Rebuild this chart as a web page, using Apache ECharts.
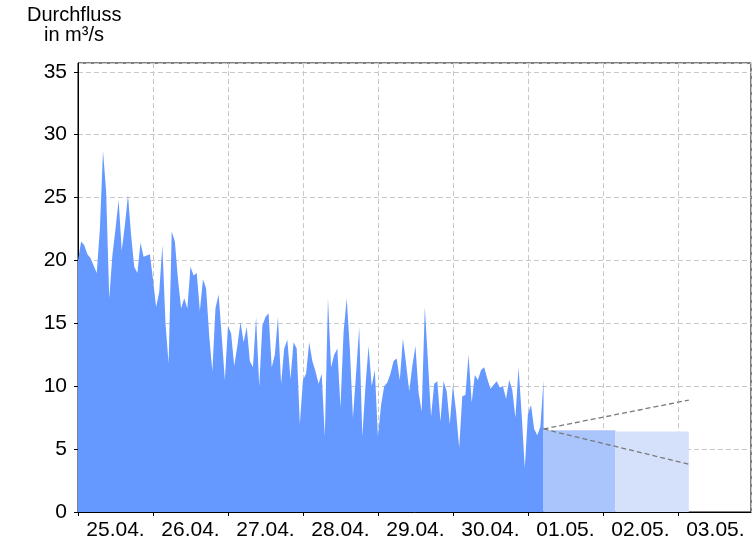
<!DOCTYPE html>
<html><head><meta charset="utf-8">
<script src="https://cdn.jsdelivr.net/npm/echarts@6/dist/echarts.min.js"></script>
<style>html,body{margin:0;padding:0;background:#fff}#c{width:756px;height:546px}</style>
</head><body><div id="c"></div>
<script>
// Day labels on the x axis (each day spans 24 h, starting 25.04. 00:00)
const dayLabels = ['25.04.','26.04.','27.04.','28.04.','29.04.','30.04.','01.05.','02.05.','03.05.'];
// Hourly discharge (m³/s) from 25.04. 00:00 (index = hour)
const flowValues = [
  20,21.5,21.2,20.5,20.2,19.6,19,22.5,28.7,25.5,17,20.4,22.5,24.8,20.8,22.8,25.2,22,19.5,19,21.4,20.3,20.4,20.5,
  18.5,16.3,17.5,21.2,15,11.8,22.3,21.5,18.5,16.2,17,16.2,19.5,18.8,19,16,18.5,17.8,14,11.2,16.2,17.3,14,10.5,
  14.8,14.2,11.6,13.2,15.1,13.5,14.7,12,11.5,15.5,10,14.8,15.5,15.8,11.5,12.5,15.5,10.2,13,13.7,10.6,13.5,13,7,
  10.5,11,13.5,12,11.2,10.2,11,6,17,11.5,12.5,13,8.3,14.3,17,13,7.5,11,14.7,6,10,13.2,10,11.3,6,8.5,
  10,10.3,11,12,12.2,10.5,13.8,11.8,9.6,11.6,13.2,9.5,8,16.3,12,7.6,10.2,10.4,7.2,10.4,9.6,7,10.1,8,
  5.1,9.2,9.3,12.5,8.7,10.9,10.5,11.3,11.5,10.6,9.8,10.1,10.4,9.9,10,9,10.5,9.7,7.5,11.5,7.8,3.5,7.8,8.5,
  6.6,6.1,6.8,10.5
];
// Forecast blocks (hours since 25.04. 00:00, value)
const forecastNearHours = [149, 172];
const forecastNearValues = [6.5, 6.5];
const forecastFarHours = [172, 195.5];
const forecastFarValues = [6.4, 6.4];
// Forecast range lines
const rangeHours = [149, 195.5];
const upperValues = [6.6, 8.9];
const lowerValues = [6.6, 3.8];

const zip = (xs, ys) => xs.map((x, i) => [x, ys[i]]);
const flowData = flowValues.map((v, i) => [i, v]);

const chart = echarts.init(document.getElementById('c'), null, {renderer: 'canvas'});
const font = 'Liberation Sans, Arial, sans-serif';
chart.setOption({
  animation: false,
  backgroundColor: '#fff',
  grid: {left: 78, right: 5, top: 63, bottom: 34, show: true, borderColor: '#000', borderWidth: 1, backgroundColor: 'transparent'},
  graphic: [
    {type: 'text', left: 27, top: 5, style: {text: 'Durchfluss', font: '20px ' + font, fill: '#000'}},
    {type: 'text', left: 44, top: 25, style: {text: 'in m³/s', font: '20px ' + font, fill: '#000'}}
  ],
  xAxis: {
    type: 'value', min: 0, max: 215.4, interval: 24,
    axisLine: {show: true, lineStyle: {color: '#000', width: 1}},
    axisTick: {show: true, length: 4, lineStyle: {color: '#000'}},
    axisLabel: {
      formatter: v => (Math.abs(v % 24) < 1e-6 && v / 24 < dayLabels.length) ? dayLabels[Math.round(v / 24)] : '',
      color: '#000', fontSize: 21, fontFamily: font, margin: 8, padding: [0, 0, 0, 75], showMaxLabel: false
    },
    splitLine: {show: true, lineStyle: {color: '#c8c8c8', width: 1, type: [5, 3]}}
  },
  yAxis: {
    type: 'value', min: 0, max: 35.7, interval: 5,
    axisLine: {show: true, lineStyle: {color: '#000', width: 1}},
    axisTick: {show: true, length: 4, lineStyle: {color: '#000'}},
    axisLabel: {formatter: v => (Math.abs(v % 5) < 1e-6) ? String(v) : '', color: '#000', fontSize: 21, fontFamily: font, margin: 11, showMaxLabel: false},
    splitLine: {show: true, lineStyle: {color: '#c8c8c8', width: 1, type: [5, 3]}}
  },
  series: [
    {type: 'line', data: flowData, symbol: 'none', lineStyle: {width: 0}, areaStyle: {color: '#6699ff', opacity: 1}, z: 2},
    {type: 'line', data: zip(forecastNearHours, forecastNearValues), symbol: 'none', lineStyle: {width: 0}, areaStyle: {color: '#aac4fc', opacity: 1}, z: 2},
    {type: 'line', data: zip(forecastFarHours, forecastFarValues), symbol: 'none', lineStyle: {width: 0}, areaStyle: {color: '#d5e1fb', opacity: 1}, z: 2},
    {type: 'line', data: zip(rangeHours, upperValues), symbol: 'none', lineStyle: {color: '#7a7a7a', width: 1.3, type: [5, 3]}, z: 3},
    {type: 'line', data: zip(rangeHours, lowerValues), symbol: 'none', lineStyle: {color: '#7a7a7a', width: 1.3, type: [5, 3]}, z: 3}
  ]
});
</script></body></html>
